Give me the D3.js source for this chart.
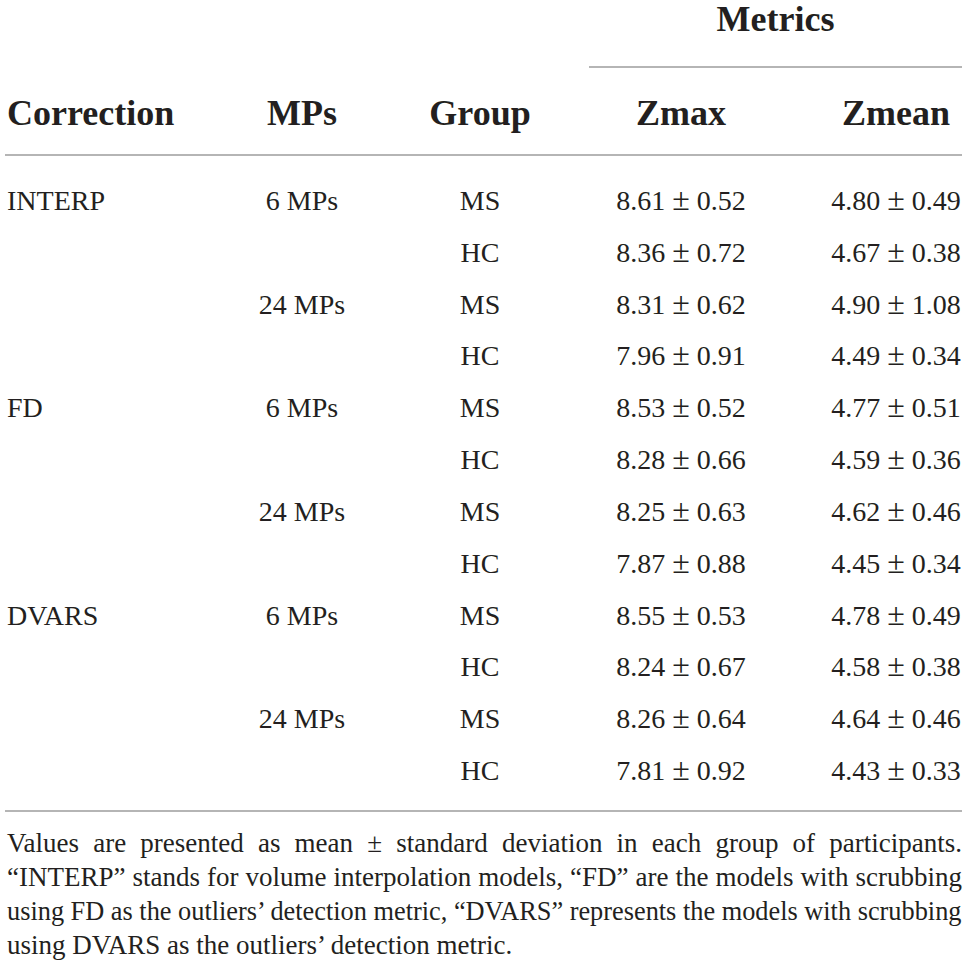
<!DOCTYPE html>
<html>
<head>
<meta charset="utf-8">
<script src="https://cdn.jsdelivr.net/npm/d3@7"></script>
<style>
  body { margin: 0; background: #fff; }
  text { font-family: "Liberation Serif", "Times New Roman", serif; fill: #231f20; }
</style>
</head>
<body>
<div id="table1"></div>
<script>
// table contents
const corrections = ["INTERP", "FD", "DVARS"];
const mpsLabels = ["6 MPs", "24 MPs"];
const groups = ["MS", "HC"];
const headers = ["Correction", "MPs", "Group", "Zmax", "Zmean"];
const zmaxMean = [8.61, 8.36, 8.31, 7.96, 8.53, 8.28, 8.25, 7.87, 8.55, 8.24, 8.26, 7.81];
const zmaxSd = [0.52, 0.72, 0.62, 0.91, 0.52, 0.66, 0.63, 0.88, 0.53, 0.67, 0.64, 0.92];
const zmeanMean = [4.80, 4.67, 4.90, 4.49, 4.77, 4.59, 4.62, 4.45, 4.78, 4.58, 4.64, 4.43];
const zmeanSd = [0.49, 0.38, 1.08, 0.34, 0.51, 0.36, 0.46, 0.34, 0.49, 0.38, 0.46, 0.33];
const footLines = [
  "Values are presented as mean \u00b1 standard deviation in each group of participants.",
  "\u201cINTERP\u201d stands for volume interpolation models, \u201cFD\u201d are the models with scrubbing",
  "using FD as the outliers\u2019 detection metric, \u201cDVARS\u201d represents the models with scrubbing",
  "using DVARS as the outliers\u2019 detection metric."
];

const width = 968, height = 976;
const left = 5, right = 962;

let svg = d3.select("#table1")
    .append("svg")
    .attr("width", width)
    .attr("height", height);

// row baselines
let y = d3.scaleLinear()
    .domain([0, zmaxMean.length - 1])
    .range([210, 780]);

// column anchors
let colX = d3.scaleOrdinal()
    .domain(headers)
    .range([7, 302, 480, 681, 896]);

let fmt = d3.format(".2f");

// rules
let rules = [
  {x1: 589, x2: right, y: 67},
  {x1: left, x2: right, y: 155},
  {x1: left, x2: right, y: 811}
];
svg.selectAll("line.rule")
    .data(rules)
    .enter()
    .append("line")
    .attr("class", "rule")
    .attr("x1", d => d.x1)
    .attr("x2", d => d.x2)
    .attr("y1", d => d.y)
    .attr("y2", d => d.y)
    .attr("stroke", "#9d9d9d")
    .attr("stroke-width", 1.5);

// "Metrics" spanning header
svg.append("text")
    .attr("x", (589 + right) / 2)
    .attr("y", 31)
    .style("text-anchor", "middle")
    .style("font-weight", "bold")
    .style("font-size", "36px")
    .text("Metrics");

svg.selectAll("text.head")
    .data(headers)
    .enter()
    .append("text")
    .attr("class", "head")
    .attr("x", d => colX(d))
    .attr("y", 125)
    .style("text-anchor", (d, i) => i === 0 ? "start" : "middle")
    .style("font-weight", "bold")
    .style("font-size", "36px")
    .text(d => d);

// body rows
let rows = zmaxMean.map(function(m, i) {
  return {
    i: i,
    corr: i % 4 === 0 ? corrections[Math.floor(i / 4)] : "",
    mps: i % 2 === 0 ? mpsLabels[Math.floor(i / 2) % 2] : "",
    group: groups[i % 2],
    zmax: [fmt(m), fmt(zmaxSd[i])],
    zmean: [fmt(zmeanMean[i]), fmt(zmeanSd[i])]
  };
});

let keys = ["corr", "mps", "group", "zmax", "zmean"];
keys.forEach(function(k, ci) {
  let cells = svg.selectAll("text.c" + ci)
      .data(rows.filter(d => d[k] !== ""))
      .enter()
      .append("text")
      .attr("class", "c" + ci)
      .attr("x", colX(headers[ci]))
      .attr("y", d => y(d.i))
      .style("text-anchor", ci === 0 ? "start" : "middle")
      .style("font-size", "28px");
  if (ci < 3) {
    cells.text(d => d[k]);
  } else {
    // mean ± sd, with a slightly larger plus-minus sign
    cells.append("tspan").text(d => d[k][0] + " ");
    cells.append("tspan").style("font-size", "32px").text("\u00b1");
    cells.append("tspan").text(d => " " + d[k][1]);
  }
});

// footnote, justified to the table width
let footY = [852, 886, 920, 954];
let footSize = "27px";
let footX0 = 7, footX1 = right;
footLines.forEach(function(line, li) {
  let g = svg.append("g")
      .attr("transform", `translate(${footX0}, ${footY[li]})`);
  let last = li === footLines.length - 1;
  let words = line.split(" ");
  let t = g.append("text")
      .style("font-size", footSize)
      .text(line);
  if (last) return;
  let target = footX1 - footX0;
  let natural = t.node().getComputedTextLength();
  if (natural >= target) {
    // too long: squeeze the line horizontally
    g.attr("transform", `translate(${footX0}, ${footY[li]}) scale(${target / natural}, 1)`);
    return;
  }
  t.remove();
  let ws = words.map(function(w) {
    let tmp = g.append("text").style("font-size", footSize).text(w);
    let len = tmp.node().getComputedTextLength();
    tmp.remove();
    return len;
  });
  let gap = (target - d3.sum(ws)) / (words.length - 1);
  let pos = 0;
  g.selectAll("text")
      .data(words)
      .enter()
      .append("text")
      .attr("x", function(d, i) { let p = pos; pos += ws[i] + gap; return p; })
      .style("font-size", footSize)
      .text(d => d);
});
</script>
</body>
</html>
